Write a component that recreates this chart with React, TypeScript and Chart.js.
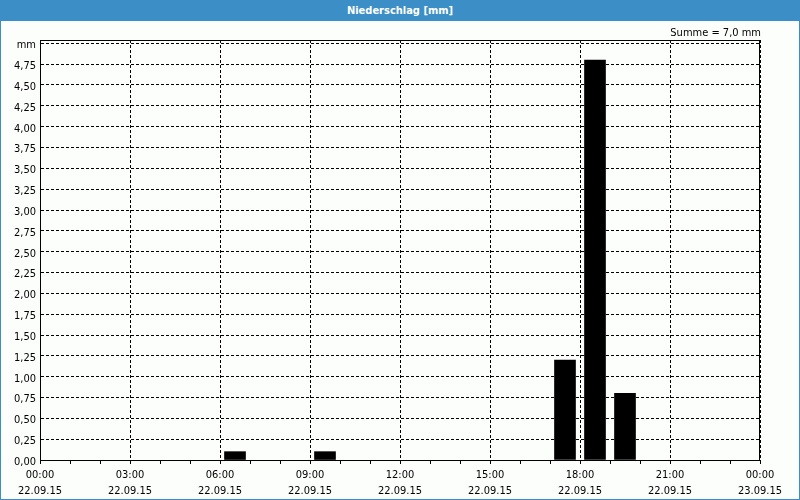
import React, { useEffect, useRef } from "react";
import { Chart, registerables } from "chart.js";

Chart.register(...registerables);

const TITLE = "Niederschlag [mm]";
const SUM_LABEL = "Summe = 7,0 mm";
// hour of day (bar centre) and precipitation in mm
const barHours = [6.5, 9.5, 17.5, 18.5, 19.5];
const barValues = [0.1, 0.1, 1.2, 4.8, 0.8];
const xTickTimes = ["00:00", "03:00", "06:00", "09:00", "12:00", "15:00", "18:00", "21:00", "00:00"];
const xTickDates = ["22.09.15", "22.09.15", "22.09.15", "22.09.15", "22.09.15", "22.09.15", "22.09.15", "22.09.15", "23.09.15"];
const yTickValues = [0, 0.25, 0.5, 0.75, 1, 1.25, 1.5, 1.75, 2, 2.25, 2.5, 2.75, 3, 3.25, 3.5, 3.75, 4, 4.25, 4.5, 4.75, 5];
const yUnit = "mm";

const FONT = "'DejaVu Sans Condensed', 'DejaVu Sans', sans-serif";
const BLUE = "#3b8fc6";

export default function App() {
  const ref = useRef<HTMLCanvasElement | null>(null);
  useEffect(() => {
    document.body.style.margin = "0";
    const frame = {
      id: "frame",
      afterDraw(chart: any) {
        const { ctx, chartArea: a } = chart;
        ctx.save();
        ctx.strokeStyle = "#000";
        ctx.lineWidth = 1;
        ctx.strokeRect(a.left + 0.5, a.top + 0.5, a.right - a.left - 1, a.bottom - a.top);
        ctx.restore();
      },
    };
    const chart = new Chart(ref.current!, {
      type: "bar",
      data: {
        datasets: [
          {
            data: barHours.map((h, i) => ({ x: h, y: barValues[i] })),
            backgroundColor: "#000",
            borderWidth: 0,
            barThickness: 21,
          },
        ],
      },
      plugins: [frame],
      options: {
        responsive: false,
        animation: false,
        devicePixelRatio: 1,
        layout: { padding: { left: 0, top: 40, right: 40, bottom: 0 } },
        plugins: { legend: { display: false }, tooltip: { enabled: false }, title: { display: false } },
        font: { family: FONT, size: 11 },
        scales: {
          x: {
            type: "linear",
            min: 0,
            max: 24,
            offset: false,
            afterFit: (s: any) => { s.height = 40; },
            ticks: {
              stepSize: 1,
              autoSkip: false,
              maxRotation: 0,
              padding: 3,
              color: "#000",
              font: { family: FONT, size: 11, lineHeight: 1.45 },
              callback: (v: any) => {
                const n = Number(v);
                if (n % 3 !== 0) return "";
                const i = n / 3;
                return [xTickTimes[i], xTickDates[i]];
              },
            },
            grid: {
              offset: false,
              drawTicks: true,
              tickLength: 4,
              tickColor: "#000",
              tickWidth: 1,
              lineWidth: 1,
              color: (c: any) => (c.tick && Number(c.tick.value) % 3 === 0 ? "#000" : "rgba(0,0,0,0)"),
            },
            border: { display: true, color: "#000", width: 1, dash: [3, 2] },
          },
          y: {
            type: "linear",
            min: 0,
            max: 5.04,
            afterFit: (s: any) => { s.width = 40; },
            afterBuildTicks: (s: any) => { s.ticks = yTickValues.map((v) => ({ value: v })); },
            ticks: {
              stepSize: 0.25,
              autoSkip: false,
              padding: 4,
              labelOffset: 2,
              color: "#000",
              font: { family: FONT, size: 11 },
              callback: (v: any) => {
                const n = Number(v);
                if (Math.abs(n - 5) < 1e-6) return yUnit;
                return n.toFixed(2).replace(".", ",");
              },
            },
            grid: { offset: false, drawTicks: false, color: "#000", lineWidth: 1 },
            border: { display: true, color: "#000", width: 1, dash: [3, 2] },
          },
        },
      },
    });
    return () => chart.destroy();
  }, []);

  return (
    <div
      style={{
        position: "fixed",
        left: 0,
        top: 0,
        width: 800,
        height: 500,
        background: "#fcfefc",
        border: `1px solid ${BLUE}`,
        boxSizing: "border-box",
        overflow: "hidden",
        fontFamily: FONT,
      }}
    >
      <canvas ref={ref} width={800} height={500} style={{ position: "absolute", left: -1, top: -1, width: 800, height: 500 }} />
      <div
        style={{
          position: "absolute",
          left: 0,
          top: 0,
          right: 0,
          height: 20,
          background: BLUE,
          color: "#fff",
          fontWeight: "bold",
          fontSize: 11,
          lineHeight: "20px",
          textAlign: "center",
        }}
      >
        {TITLE}
      </div>
      <div
        style={{
          position: "absolute",
          right: 38,
          top: 25,
          fontSize: 11,
          color: "#000",
          whiteSpace: "nowrap",
        }}
      >
        {SUM_LABEL}
      </div>
    </div>
  );
}
